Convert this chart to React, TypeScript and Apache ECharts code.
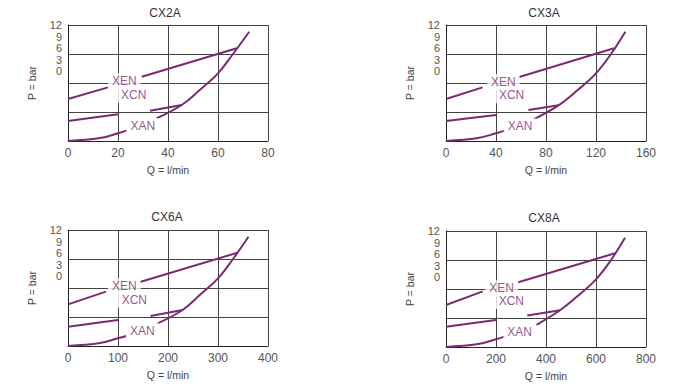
import React, { useEffect, useRef } from 'react';
import * as echarts from 'echarts';

const FONT = "'Liberation Sans', Arial, Helvetica, sans-serif";
const PURPLE = '#7a2a72';

// chart titles and axis scales
const chartTitles = ['CX2A', 'CX3A', 'CX6A', 'CX8A'];
const flowMax = [80, 160, 400, 800];
const flowInterval = [20, 40, 100, 200];
const pressureTicks = [0, 3, 6, 9, 12];
const flowAxisName = 'Q = l/min';
const pressureAxisName = 'P = bar';
const curveNames = ['XEN', 'XCN', 'XAN'];

// curves: [Q (l/min), P], null = gap where the label sits
const cx2aXEN = [[0, 4.34], [16, 5.55], null, [29.5, 6.65], [67.5, 9.6]];
const cx2aXCN = [[0, 2.07], [20, 2.76], null, [32.8, 3.14], [45.5, 3.72]];
const cx2aXAN = [[0, 0], [12.8, 0.3], [20, 0.8], [23.5, 1.1], null, [35.5, 2.35], [45.5, 3.72], [52.8, 5.3], [60, 7.0], [66, 9.0], [72.5, 11.3]];
const cx2aLabels = [[22.5, 6.18], [26.3, 4.79], [29.9, 1.53]];

const cx3aXEN = [[0, 4.34], [29.3, 5.55], null, [58, 6.6], [134.4, 9.6]];
const cx3aXCN = [[0, 2.07], [40, 2.69], null, [66, 3.2], [90, 3.69]];
const cx3aXAN = [[0, 0], [25.6, 0.3], [40, 0.8], [47, 1.07], null, [70, 2.24], [90, 3.69], [105.6, 5.3], [120, 7.0], [132, 9.0], [143.5, 11.3]];
const cx3aLabels = [[45.9, 6.1], [52.5, 4.73], [59.2, 1.53]];

const cx6aXEN = [[0, 4.31], [76, 5.62], null, [144, 6.62], [339, 9.65]];
const cx6aXCN = [[0, 2.0], [100, 2.69], null, [165, 3.1], [229, 3.72]];
const cx6aXAN = [[0, 0], [64, 0.3], [100, 0.8], [117, 1.03], null, [177, 2.28], [229, 3.72], [264, 5.3], [300, 7.0], [330, 9.0], [361, 11.3]];
const cx6aLabels = [[112.7, 6.18], [132.7, 4.81], [148.7, 1.6]];

const cx8aXEN = [[0, 4.35], [147, 5.75], null, [289, 6.7], [676, 9.7]];
const cx8aXCN = [[0, 2.1], [200, 2.8], null, [325, 3.25], [456, 3.8]];
const cx8aXAN = [[0, 0], [128, 0.3], [200, 0.8], [236, 1.1], null, [362, 2.3], [456, 3.8], [528, 5.3], [600, 7.0], [660, 9.0], [716, 11.3]];
const cx8aLabels = [[222.7, 6.07], [261.3, 4.76], [294.7, 1.59]];

const chartCurves = [
  [cx2aXEN, cx2aXCN, cx2aXAN],
  [cx3aXEN, cx3aXCN, cx3aXAN],
  [cx6aXEN, cx6aXCN, cx6aXAN],
  [cx8aXEN, cx8aXCN, cx8aXAN],
];
const chartLabels = [cx2aLabels, cx3aLabels, cx6aLabels, cx8aLabels];

// layout (pixels)
const gridRects = [
  { left: 68, top: 25, width: 200, height: 116 },
  { left: 446, top: 25, width: 200, height: 116 },
  { left: 68, top: 230, width: 200, height: 116 },
  { left: 446, top: 231, width: 200, height: 116 },
];
const titlePos = [[165, 13], [544, 13], [167, 217], [544, 218]];

export default function App() {
  const ref = useRef<HTMLDivElement>(null);
  useEffect(() => {
    if (!ref.current) return;
    const chart = echarts.init(ref.current, undefined, { renderer: 'svg' });
    const grid: any[] = [];
    const xAxis: any[] = [];
    const yAxis: any[] = [];
    const series: any[] = [];
    const graphic: any[] = [];
    chartTitles.forEach((t, i) => {
      grid.push({ ...gridRects[i], show: false, containLabel: false });
      xAxis.push({
        gridIndex: i,
        type: 'value',
        min: 0,
        max: flowMax[i],
        interval: flowInterval[i],
        axisLine: { show: true, lineStyle: { color: '#222', width: 1 } },
        axisTick: { show: false },
        axisLabel: { fontSize: 12, color: '#555', margin: 6, fontFamily: FONT },
        splitLine: { show: true, lineStyle: { color: '#444', width: 1 } },
        name: flowAxisName,
        nameLocation: 'middle',
        nameGap: 23,
        nameTextStyle: { fontSize: 10.5, color: '#444', fontFamily: FONT },
      });
      yAxis.push({
        gridIndex: i,
        type: 'value',
        position: 'left',
        min: 0,
        max: 12,
        interval: 3,
        axisLine: { show: true, lineStyle: { color: '#222', width: 1 } },
        axisTick: { show: false },
        axisLabel: { show: false },
        splitLine: { show: true, lineStyle: { color: '#444', width: 1 } },
        name: pressureAxisName,
        nameLocation: 'middle',
        nameGap: 31,
        nameTextStyle: { fontSize: 10.5, color: '#444', fontFamily: FONT },
      });
      yAxis.push({
        gridIndex: i,
        type: 'value',
        position: 'left',
        min: -18,
        max: 12,
        interval: 3,
        axisLine: { show: false },
        axisTick: { show: false },
        splitLine: { show: false },
        axisLabel: {
          fontSize: 11,
          color: '#555',
          margin: 6,
          fontFamily: FONT,
          formatter: (v: number) => (pressureTicks.includes(v) ? String(v) : ''),
        },
      });
      chartCurves[i].forEach((data, k) => {
        series.push({
          type: 'line',
          name: `${t} ${curveNames[k]}`,
          xAxisIndex: i,
          yAxisIndex: 2 * i,
          data,
          showSymbol: false,
          symbol: 'none',
          smooth: k === 2 ? 0.4 : false,
          connectNulls: false,
          lineStyle: { color: PURPLE, width: 2 },
          z: 2,
          silent: true,
        });
      });
      series.push({
        type: 'scatter',
        xAxisIndex: i,
        yAxisIndex: 2 * i,
        symbolSize: 0,
        silent: true,
        z: 5,
        data: chartLabels[i].map((p, k) => [p[0], p[1], curveNames[k]]),
        label: {
          show: true,
          position: 'inside',
          formatter: (p: any) => p.value[2],
          color: PURPLE,
          fontSize: 12,
          fontFamily: FONT,
          backgroundColor: '#fff',
          padding: [2, 4, 2, 4],
        },
      });
      graphic.push({
        type: 'text',
        x: titlePos[i][0],
        y: titlePos[i][1],
        style: {
          text: t,
          align: 'center',
          verticalAlign: 'middle',
          textAlign: 'center',
          textVerticalAlign: 'middle',
          fontSize: 12,
          fontFamily: FONT,
          fill: '#333',
        },
      });
    });
    chart.setOption({
      animation: false,
      backgroundColor: '#fff',
      grid,
      xAxis,
      yAxis,
      series,
      graphic,
    });
    return () => chart.dispose();
  }, []);
  return (
    <div
      ref={ref}
      style={{ position: 'fixed', left: 0, top: 0, width: 700, height: 392 }}
    />
  );
}
